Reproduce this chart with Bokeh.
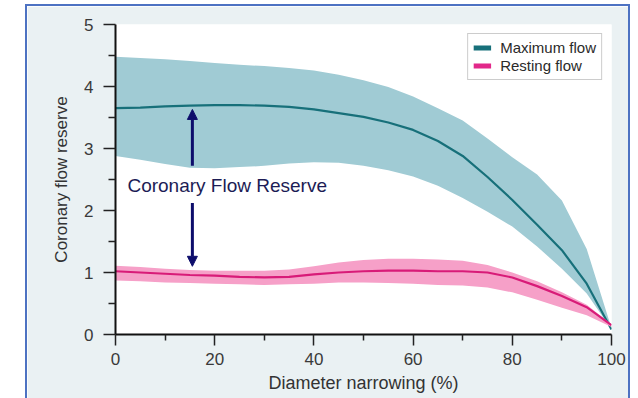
from bokeh.plotting import figure
from bokeh.models import (FixedTicker, Arrow, NormalHead, Label, Legend, LegendItem,
                          ColumnDataSource)
from bokeh.embed import file_html
from bokeh.resources import INLINE

# ---- data ----
narrowing = [0, 5, 10, 15, 20, 25, 30, 35, 40, 45, 50, 55, 60, 65, 70, 75, 80, 85, 90, 95, 100]

max_flow = [3.65, 3.66, 3.68, 3.69, 3.70, 3.70, 3.69, 3.67, 3.63, 3.57, 3.51, 3.42, 3.30, 3.12,
            2.88, 2.54, 2.17, 1.77, 1.36, 0.82, 0.08]
max_upper = [4.48, 4.46, 4.44, 4.41, 4.38, 4.35, 4.33, 4.30, 4.26, 4.19, 4.10, 3.99, 3.84, 3.65,
             3.45, 3.16, 2.86, 2.58, 2.16, 1.38, 0.10]
max_lower = [2.88, 2.82, 2.75, 2.69, 2.68, 2.70, 2.72, 2.76, 2.78, 2.77, 2.72, 2.65, 2.55, 2.40,
             2.20, 1.98, 1.74, 1.42, 1.06, 0.66, 0.08]

rest_flow = [1.02, 1.00, 0.98, 0.96, 0.95, 0.93, 0.92, 0.93, 0.97, 1.00, 1.02, 1.03, 1.03, 1.02,
             1.02, 1.00, 0.92, 0.78, 0.62, 0.44, 0.15]
rest_upper = [1.11, 1.09, 1.06, 1.04, 1.03, 1.03, 1.03, 1.05, 1.10, 1.16, 1.20, 1.22, 1.22, 1.21,
              1.19, 1.12, 1.00, 0.86, 0.68, 0.48, 0.16]
rest_lower = [0.87, 0.86, 0.84, 0.83, 0.82, 0.81, 0.80, 0.81, 0.82, 0.84, 0.84, 0.83, 0.82, 0.80,
              0.79, 0.76, 0.68, 0.56, 0.43, 0.31, 0.12]

x_ticks = [0, 20, 40, 60, 80, 100]
x_minor = [10, 30, 50, 70, 90]
y_ticks = [0, 1, 2, 3, 4, 5]
y_minor = [0.5, 1.5, 2.5, 3.5, 4.5]

arrow_x = 15.5
arrow_top = [2.72, 3.63]      # from, to (upwards)
arrow_bottom = [2.12, 1.10]   # from, to (downwards)
annot_text = "Coronary Flow Reserve"
annot_pos = [2.4, 2.4]

TEAL_BAND = "#a0cbd4"
TEAL_LINE = "#17707a"
PINK_BAND = "#f6a0c8"
PINK_LINE = "#d81b78"
NAVY = "#0d0d6b"
BG = "#eaf1f3"

src = ColumnDataSource(dict(x=narrowing, mf=max_flow, mu=max_upper, ml=max_lower,
                            rf=rest_flow, ru=rest_upper, rl=rest_lower))

p = figure(width=601, height=392, x_range=(0, 100), y_range=(0, 5),
           output_backend="svg", toolbar_location=None,
           min_border_left=88, min_border_right=17, min_border_top=18, min_border_bottom=64,
           background_fill_color="white", border_fill_color=BG)
p.margin = (6, 10, 0, 27)
p.styles = {"outline": "2px solid #4d72c2"}
p.outline_line_color = None
p.xgrid.visible = False
p.ygrid.visible = False

p.varea(x="x", y1="ml", y2="mu", source=src, fill_color=TEAL_BAND)
p.line(x="x", y="mf", source=src, line_color=TEAL_LINE, line_width=2.2)
p.varea(x="x", y1="rl", y2="ru", source=src, fill_color=PINK_BAND)
p.line(x="x", y="rf", source=src, line_color=PINK_LINE, line_width=2.2)

# arrows
p.add_layout(Arrow(end=NormalHead(size=10, fill_color=NAVY, line_color=NAVY),
                   x_start=arrow_x, y_start=arrow_top[0], x_end=arrow_x, y_end=arrow_top[1],
                   line_color=NAVY, line_width=3))
p.add_layout(Arrow(end=NormalHead(size=10, fill_color=NAVY, line_color=NAVY),
                   x_start=arrow_x, y_start=arrow_bottom[0], x_end=arrow_x, y_end=arrow_bottom[1],
                   line_color=NAVY, line_width=3))
p.add_layout(Label(x=annot_pos[0], y=annot_pos[1], text=annot_text, text_color="#1c1c55",
                   text_font="Liberation Sans", text_font_size="19px",
                   text_baseline="middle", text_align="left"))

# axes
for ax in (p.xaxis[0], p.yaxis[0]):
    ax.axis_line_color = "#111111"
    ax.axis_line_width = 2
    ax.major_tick_line_color = "#222222"
    ax.major_tick_line_width = 1.5
    ax.minor_tick_line_color = "#222222"
    ax.minor_tick_line_width = 1.5
    ax.major_tick_in = 0
    ax.minor_tick_in = 0
    ax.major_label_text_font = "Liberation Sans"
    ax.major_label_text_font_size = "17px"
    ax.major_label_text_color = "#3a3a3a"
    ax.axis_label_text_font = "Liberation Sans"
    ax.axis_label_text_font_style = "normal"
    ax.axis_label_text_color = "#333333"

p.xaxis[0].ticker = FixedTicker(ticks=x_ticks, minor_ticks=x_minor)
p.yaxis[0].ticker = FixedTicker(ticks=y_ticks, minor_ticks=y_minor)
p.xaxis[0].major_tick_out = 11
p.xaxis[0].minor_tick_out = 6
p.yaxis[0].major_tick_out = 12
p.yaxis[0].minor_tick_out = 7
p.xaxis[0].major_label_standoff = 7
p.yaxis[0].major_label_standoff = 10
p.xaxis[0].axis_label = "Diameter narrowing (%)"
p.yaxis[0].axis_label = "Coronary flow reserve"
p.xaxis[0].axis_label_text_font_size = "18px"
p.yaxis[0].axis_label_text_font_size = "17px"
p.xaxis[0].axis_label_standoff = 5
p.yaxis[0].axis_label_standoff = 10

# legend with thicker legend lines
lg1 = p.line(x=[0], y=[0], line_color=TEAL_LINE, line_width=5, visible=False)
lg2 = p.line(x=[0], y=[0], line_color="#e2288a", line_width=5, visible=False)
legend = Legend(items=[LegendItem(label="Maximum flow", renderers=[lg1]),
                       LegendItem(label="Resting flow", renderers=[lg2])],
                location="top_right", margin=9, padding=5, spacing=1,
                label_height=15, glyph_height=15, glyph_width=18, label_standoff=9,
                label_text_font="Liberation Sans", label_text_font_size="15px",
                label_text_color="#2a2a2a", border_line_color="#999999",
                background_fill_color="white", background_fill_alpha=1)
p.add_layout(legend)

open("out.html", "w").write(file_html(p, INLINE))
